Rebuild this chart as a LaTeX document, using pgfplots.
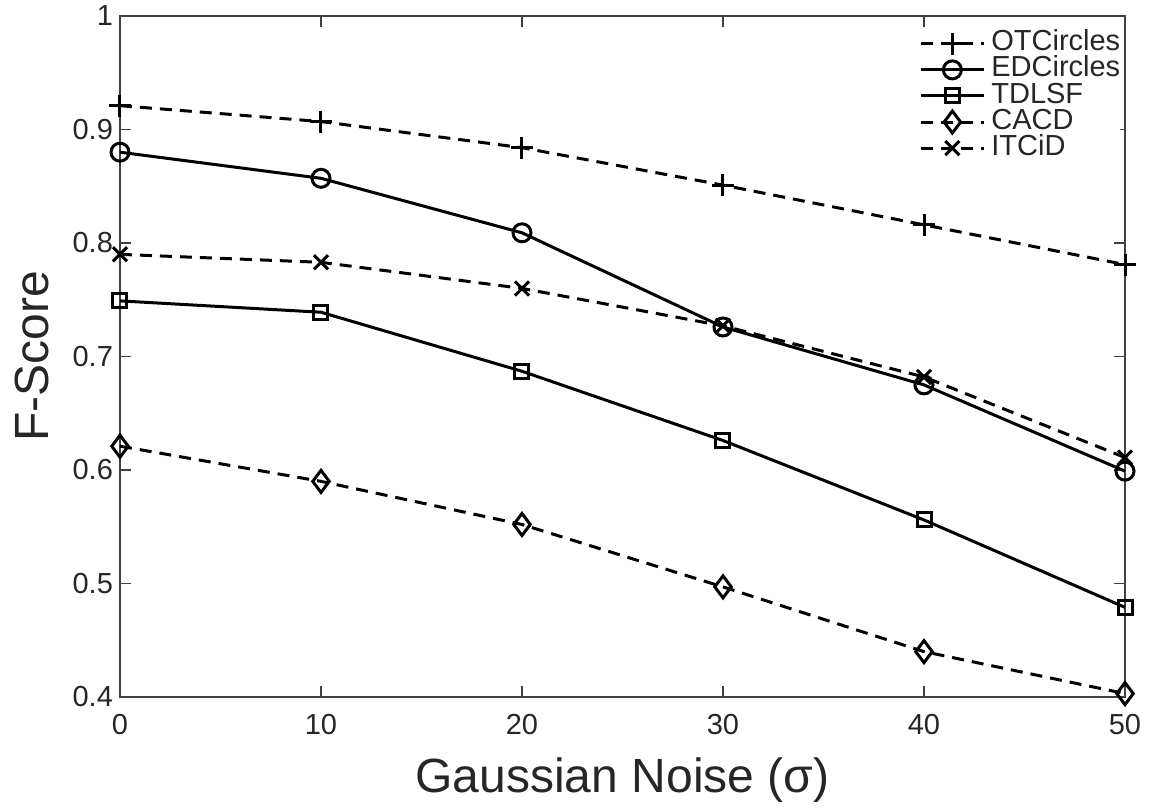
\documentclass[border=0pt]{standalone}
\usepackage{pgfplots}
\pgfplotsset{compat=1.18}
\usepackage{fontspec}
\setmainfont{Liberation Sans}
\begin{document}
\begin{tikzpicture}
\useasboundingbox (-60pt,-56pt) rectangle (515.5pt,348.5pt);
\begin{axis}[
  at={(0,0)}, anchor=south west,
  scale only axis, width=502.5pt, height=340.5pt,
  xmin=0, xmax=50, ymin=0.4, ymax=1,
  xtick={0,10,20,30,40,50},
  ytick={0.4,0.5,0.6,0.7,0.8,0.9,1},
  yticklabels={0.4,0.5,0.6,0.7,0.8,0.9,1},
  tick align=inside, major tick length=5.5pt,
  axis line style={black!75, line width=0.6pt},
  tick style={black!75, line width=0.6pt},
  ticklabel style={font=\fontsize{14.5}{16}\selectfont, text=black!85},
  /pgf/number format/assume math mode=true,
  xticklabel style={yshift=-5pt},
  xlabel={Gaussian Noise (σ)}, ylabel={F-Score},
  label style={font=\fontsize{24}{28}\selectfont, text=black!85},
  xlabel style={at={(axis description cs:0.5,-0.122)}, anchor=center},
  ylabel style={at={(axis description cs:-0.0876,0.5)}, anchor=center},
  clip=false,
  legend cell align=left,
  legend image code/.code={\draw[mark repeat=2,mark phase=2] plot coordinates {(0pt,0pt) (15.75pt,0pt) (31.5pt,0pt)};},
  legend style={at={(rel axis cs:0.795,0.979)}, anchor=north west, draw=none, fill=white,
    inner sep=0pt, column sep=3pt, row sep=0pt,
    font=\fontsize{14.5}{16}\selectfont, text=black!85,
    nodes={inner sep=0pt, text height=10.05pt, text depth=3pt}},
]
\addplot[black, line width=1.5pt, dash pattern=on 6pt off 4pt, mark=+, mark size=5.5pt, mark options={solid}]
  coordinates {(0,0.921)(10,0.907)(20,0.884)(30,0.851)(40,0.816)(50,0.781)};
\addlegendentry{OTCircles}
\addplot[black, line width=1.5pt, mark=o, mark size=4.5pt, mark options={solid}]
  coordinates {(0,0.880)(10,0.857)(20,0.809)(30,0.726)(40,0.675)(50,0.599)};
\addlegendentry{EDCircles}
\addplot[black, line width=1.5pt, mark=square, mark size=3.5pt, mark options={solid}]
  coordinates {(0,0.749)(10,0.739)(20,0.687)(30,0.626)(40,0.556)(50,0.479)};
\addlegendentry{TDLSF}
\addplot[black, line width=1.5pt, dash pattern=on 6pt off 4pt, mark=diamond, mark size=5.5pt, mark options={solid}]
  coordinates {(0,0.621)(10,0.590)(20,0.552)(30,0.497)(40,0.440)(50,0.403)};
\addlegendentry{CACD}
\addplot[black, line width=1.5pt, dash pattern=on 6pt off 4pt, mark=x, mark size=5pt, mark options={solid}]
  coordinates {(0,0.790)(10,0.783)(20,0.760)(30,0.727)(40,0.682)(50,0.611)};
\addlegendentry{ITCiD}
\end{axis}
\end{tikzpicture}
\end{document}
